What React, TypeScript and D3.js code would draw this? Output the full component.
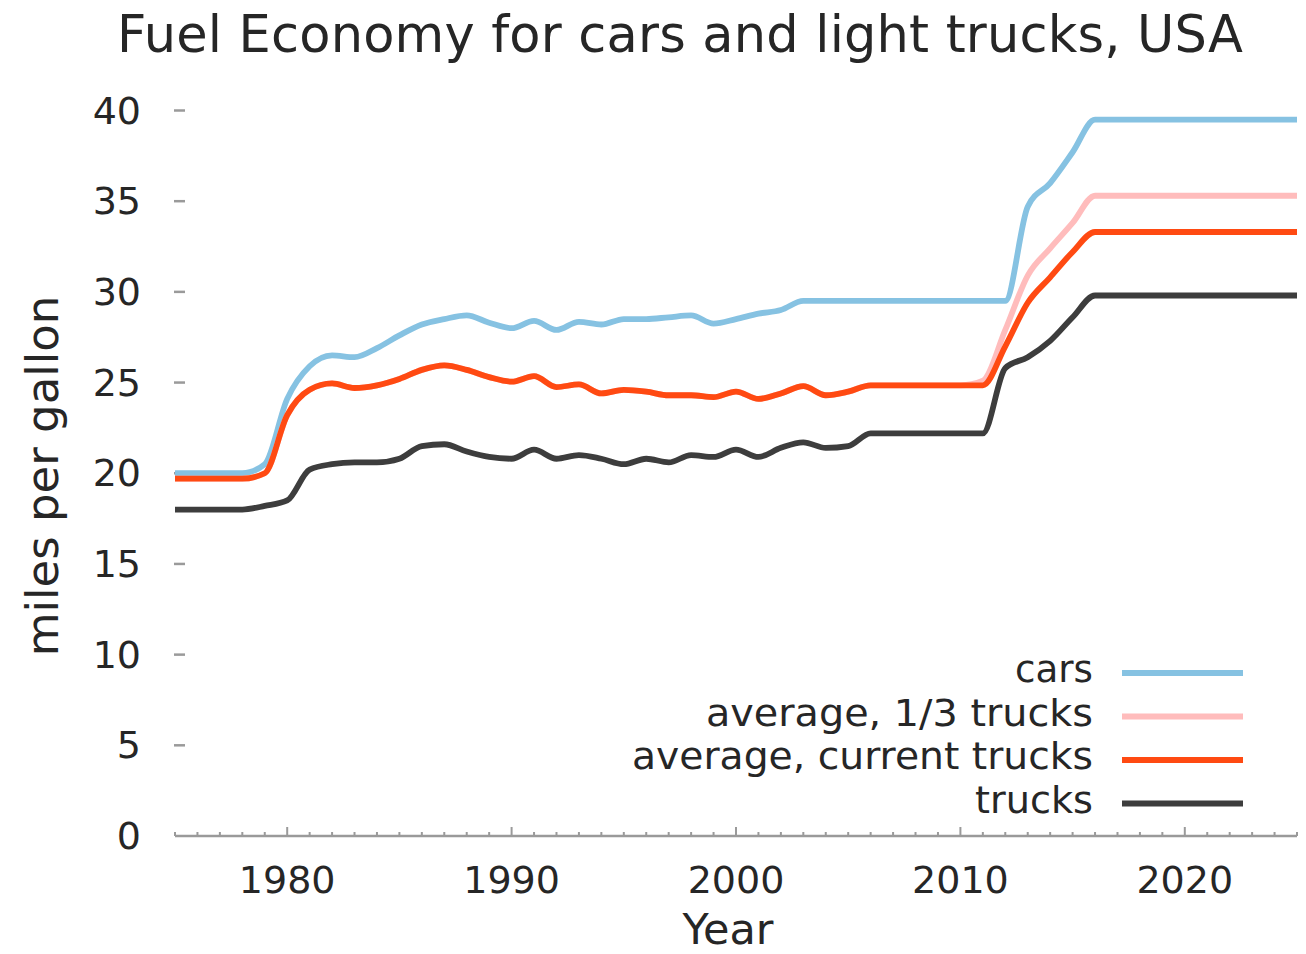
import React from "react";
import * as d3 from "d3";

const years = [
  1975, 1976, 1977, 1978, 1979, 1980, 1981, 1982, 1983, 1984, 1985, 1986, 1987,
  1988, 1989, 1990, 1991, 1992, 1993, 1994, 1995, 1996, 1997, 1998, 1999, 2000,
  2001, 2002, 2003, 2004, 2005, 2006, 2007, 2008, 2009, 2010, 2011, 2012, 2013,
  2014, 2015, 2016, 2017, 2018, 2019, 2020, 2021, 2022, 2023, 2024, 2025,
];

const cars = [
  20.0, 20.0, 20.0, 20.0, 20.5, 24.1, 25.9, 26.5, 26.4, 26.9, 27.6, 28.2, 28.5,
  28.7, 28.3, 28.0, 28.4, 27.9, 28.35, 28.2, 28.5, 28.5, 28.6, 28.7, 28.25, 28.5,
  28.8, 29.0, 29.5, 29.5, 29.5, 29.5, 29.5, 29.5, 29.5, 29.5, 29.5, 29.5, 34.7,
  36.0, 37.7, 39.5, 39.5, 39.5, 39.5, 39.5, 39.5, 39.5, 39.5, 39.5, 39.5,
];

const avgThirdTrucks = [
  19.7, 19.7, 19.7, 19.7, 20.0, 23.2, 24.6, 24.95, 24.7, 24.85, 25.2, 25.7, 25.95,
  25.7, 25.3, 25.05, 25.35, 24.75, 24.9, 24.4, 24.6, 24.5, 24.3, 24.3, 24.2, 24.5,
  24.1, 24.4, 24.8, 24.3, 24.5, 24.85, 24.85, 24.85, 24.85, 24.85, 25.1, 27.9, 30.9,
  32.4, 33.8, 35.3, 35.3, 35.3, 35.3, 35.3, 35.3, 35.3, 35.3, 35.3, 35.3,
];

const avgCurrentTrucks = [
  19.7, 19.7, 19.7, 19.7, 20.0, 23.2, 24.6, 24.95, 24.7, 24.85, 25.2, 25.7, 25.95,
  25.7, 25.3, 25.05, 25.35, 24.75, 24.9, 24.4, 24.6, 24.5, 24.3, 24.3, 24.2, 24.5,
  24.1, 24.4, 24.8, 24.3, 24.5, 24.85, 24.85, 24.85, 24.85, 24.85, 24.85, 27.0, 29.4,
  30.8, 32.2, 33.3, 33.3, 33.3, 33.3, 33.3, 33.3, 33.3, 33.3, 33.3, 33.3,
];

const trucks = [
  18.0, 18.0, 18.0, 18.0, 18.2, 18.5, 20.2, 20.5, 20.6, 20.6, 20.8, 21.5, 21.6,
  21.2, 20.9, 20.8, 21.3, 20.8, 21.0, 20.8, 20.5, 20.8, 20.6, 21.0, 20.9, 21.3,
  20.9, 21.4, 21.7, 21.4, 21.5, 22.2, 22.2, 22.2, 22.2, 22.2, 22.2, 25.8, 26.4,
  27.3, 28.6, 29.8, 29.8, 29.8, 29.8, 29.8, 29.8, 29.8, 29.8, 29.8, 29.8,
];

const seriesNames = ["cars", "average, 1/3 trucks", "average, current trucks", "trucks"];
const seriesColors = ["#86c2e2", "#ffbcbc", "#ff4a12", "#3d3d3d"];
const legendTextWidths = [78, 387, 461, 118];
const yTicks = [0, 5, 10, 15, 20, 25, 30, 35, 40];
const xMajorTicks = [1980, 1990, 2000, 2010, 2020];

const title = "Fuel Economy for cars and light trucks, USA";
const xTitle = "Year";
const yTitle = "miles per gallon";

const W = 1306;
const H = 954;
const FONT = "'DejaVu Sans', Verdana, sans-serif";
const TEXT = "#262626";

export default function App() {
  const x = d3.scaleLinear().domain([1975, 2025]).range([175, 1297]);
  const y = d3.scaleLinear().domain([0, 40]).range([836, 110.5]);
  const allSeries = [cars, avgThirdTrucks, avgCurrentTrucks, trucks];
  const line = d3
    .line<number>()
    .x((_, i) => x(years[i]))
    .y((d) => y(d))
    .curve(d3.curveMonotoneX);
  const minorTicks = d3.range(1975, 2026, 1);
  const legendY = [673, 716.5, 760, 803.5];

  return (
    <svg
      width={W}
      height={H}
      style={{ position: "absolute", left: 0, top: 0, display: "block", background: "#fff" }}
      fontFamily={FONT}
    >
      <rect x={0} y={0} width={W} height={H} fill="#fff" />
      <text
        x={117}
        y={52}
        fontSize={51}
        textLength={1126}
        lengthAdjust="spacing"
        fill={TEXT}
      >
        {title}
      </text>

      {/* y ticks */}
      {yTicks.map((t) => (
        <g key={"y" + t}>
          {t > 0 && (
            <line x1={174} x2={185} y1={y(t)} y2={y(t)} stroke="#9a9a9a" strokeWidth={2.5} />
          )}
          <text x={141} y={y(t) + 13} fontSize={38} textAnchor="end" fill={TEXT}>
            {t}
          </text>
        </g>
      ))}

      {/* x axis */}
      <line x1={x(1975)} x2={x(2025)} y1={y(0)} y2={y(0)} stroke="#9a9a9a" strokeWidth={2.5} />
      {minorTicks.map((t) => (
        <line
          key={"m" + t}
          x1={x(t)}
          x2={x(t)}
          y1={y(0)}
          y2={y(0) - (xMajorTicks.includes(t) ? 9 : 4)}
          stroke="#9a9a9a"
          strokeWidth={2}
        />
      ))}
      {xMajorTicks.map((t) => (
        <text key={"x" + t} x={x(t)} y={893} fontSize={38} textAnchor="middle" fill={TEXT}>
          {t}
        </text>
      ))}
      <text x={728} y={944} fontSize={43} textAnchor="middle" fill={TEXT}>
        {xTitle}
      </text>
      <text
        transform="translate(58,476) rotate(-90)"
        fontSize={45}
        textAnchor="middle"
        fill={TEXT}
      >
        {yTitle}
      </text>

      {/* data lines */}
      {allSeries.map((s, i) => (
        <path
          key={"s" + i}
          d={line(s) || ""}
          fill="none"
          stroke={seriesColors[i]}
          strokeWidth={5.8}
          strokeLinejoin="round"
        />
      ))}

      {/* legend */}
      {seriesNames.map((n, i) => (
        <g key={"l" + i}>
          <text
            x={1093 - legendTextWidths[i]}
            y={legendY[i] + 9}
            fontSize={38}
            textLength={legendTextWidths[i]}
            lengthAdjust="spacingAndGlyphs"
            fill={TEXT}
          >
            {n}
          </text>
          <line
            x1={1122}
            x2={1243}
            y1={legendY[i]}
            y2={legendY[i]}
            stroke={seriesColors[i]}
            strokeWidth={5.8}
          />
        </g>
      ))}
    </svg>
  );
}
